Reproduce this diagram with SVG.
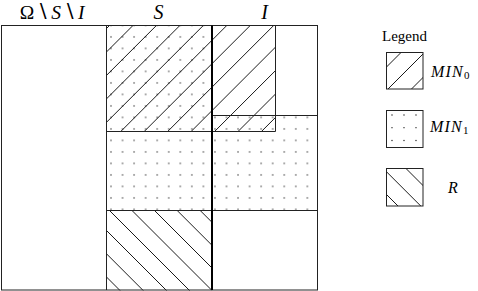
<svg xmlns="http://www.w3.org/2000/svg" width="478" height="291" viewBox="0 0 478 291">
<style>
.txt{font-family:"Liberation Serif","DejaVu Serif",serif;fill:#000}
.it{font-style:italic}
.hatch{fill:none;stroke:#000;stroke-width:0.9}
.edge{fill:none;stroke:#222;stroke-width:1}
.thick{fill:none;stroke:#000;stroke-width:2}
</style>
<defs>
<pattern id="dots" patternUnits="userSpaceOnUse" x="105.225" y="31.15" width="11.55" height="11.5">
<circle cx="5.775" cy="5.75" r="0.65" fill="#111"/>
</pattern>
<clipPath id="clipMin0"><rect x="106.5" y="25.5" width="169" height="106"/></clipPath>
<clipPath id="clipR"><rect x="106.5" y="210.5" width="105" height="80"/></clipPath>
<clipPath id="clipLegMin0"><rect x="386.5" y="52.5" width="36.5" height="36.5"/></clipPath>
<clipPath id="clipLegR"><rect x="386.5" y="168.5" width="36.5" height="37.5"/></clipPath>
</defs>

<g id="labels">
<text class="txt" x="52" y="19" font-size="19.5" text-anchor="middle">Ω<tspan dx="2">∖</tspan><tspan class="it" dx="2">S</tspan><tspan dx="2">∖</tspan><tspan class="it" dx="2">I</tspan></text>
<text class="txt it" x="158.5" y="19" font-size="20" text-anchor="middle">S</text>
<text class="txt it" x="264.5" y="19" font-size="20" text-anchor="middle">I</text>
</g>

<g id="min1-regions">
<rect x="106.5" y="25.5" width="105.5" height="185" fill="url(#dots)"/>
<rect x="212" y="115.5" width="105.5" height="95" fill="url(#dots)"/>
</g>

<g id="min0-regions" clip-path="url(#clipMin0)">
<path class="hatch" d="M-5,140L115,20M18.45,140L138.45,20M41.9,140L161.9,20M65.35,140L185.35,20M88.8,140L208.8,20M112.25,140L232.25,20M135.7,140L255.7,20M159.15,140L279.15,20M182.6,140L302.6,20M206.05,140L326.05,20M229.5,140L349.5,20M252.95,140L372.95,20"/>
</g>

<g id="r-region" clip-path="url(#clipR)">
<path class="hatch" d="M189.7,200L289.7,300M166.7,200L266.7,300M144,200L244,300M121.5,200L221.5,300M99,200L199,300M76,200L176,300M52.7,200L152.7,300M29.5,200L129.5,300"/>
</g>

<g id="borders">
<rect class="edge" x="1.5" y="25.5" width="316" height="264.5"/>
<line class="edge" x1="106.5" y1="25.5" x2="106.5" y2="290"/>
<line class="edge" x1="106.5" y1="131.5" x2="212" y2="131.5"/>
<line class="edge" x1="106.5" y1="210.5" x2="317.5" y2="210.5"/>
<line class="edge" x1="212" y1="115.5" x2="317.5" y2="115.5"/>
<polyline class="edge" points="212,131.5 275.5,131.5 275.5,25.5"/>
<line class="thick" x1="212" y1="25.5" x2="212" y2="290"/>
</g>

<g id="legend">
<text class="txt" x="404.5" y="41" font-size="15" text-anchor="middle">Legend</text>
<g id="legend-min0">
<g clip-path="url(#clipLegMin0)">
<path class="hatch" d="M353.5,100L413.5,40M377,100L437,40M400.5,100L460.5,40"/>
</g>
<rect class="edge" x="386.5" y="52.5" width="36.5" height="36.5"/>
<text class="txt it" x="431" y="76.5" font-size="16" letter-spacing="1.2">MIN<tspan font-size="11" font-style="normal" dy="2.5">0</tspan></text>
</g>
<g id="legend-min1">
<g fill="#111">
<circle cx="392" cy="115" r="0.65"/><circle cx="404" cy="115" r="0.65"/><circle cx="416" cy="115" r="0.65"/>
<circle cx="392" cy="127.7" r="0.65"/><circle cx="404" cy="127.7" r="0.65"/><circle cx="416" cy="127.7" r="0.65"/>
<circle cx="392" cy="140.5" r="0.65"/><circle cx="404" cy="140.5" r="0.65"/><circle cx="416" cy="140.5" r="0.65"/>
</g>
<rect class="edge" x="386.5" y="110.5" width="36.5" height="37"/>
<text class="txt it" x="430" y="131.5" font-size="16" letter-spacing="1.2">MIN<tspan font-size="11" font-style="normal" dy="2.5">1</tspan></text>
</g>
<g id="legend-r">
<g clip-path="url(#clipLegR)">
<path class="hatch" d="M342,150L412,220M364.75,150L434.75,220M387.5,150L457.5,220"/>
</g>
<rect class="edge" x="386.5" y="168.5" width="36.5" height="37.5"/>
<text class="txt it" x="453" y="193" font-size="16" text-anchor="middle">R</text>
</g>
</g>
</svg>
